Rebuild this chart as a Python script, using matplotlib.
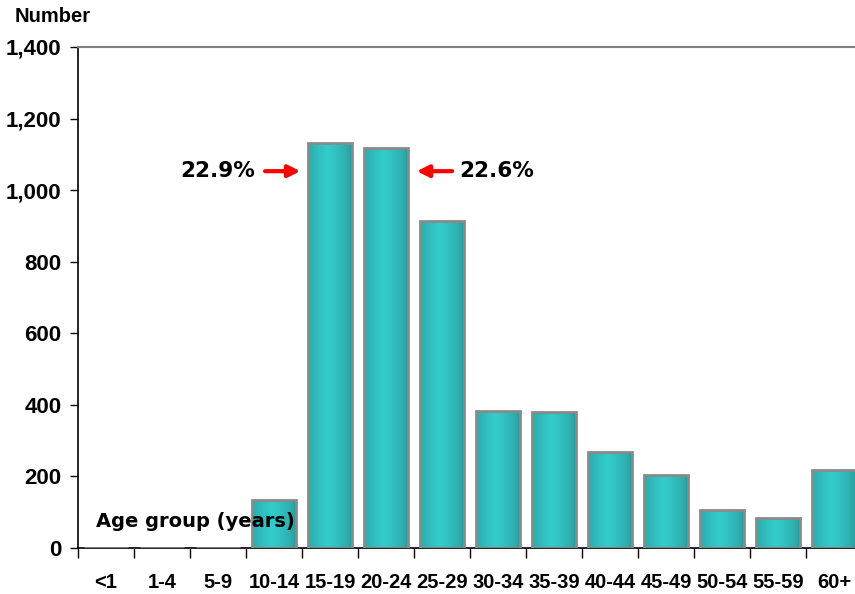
import numpy as np
import matplotlib.pyplot as plt
from matplotlib import font_manager

ages = ["<1", "1-4", "5-9", "10-14", "15-19", "20-24", "25-29", "30-34",
        "35-39", "40-44", "45-49", "50-54", "55-59", "60+"]
counts = [0, 0, 0, 134, 1131, 1117, 913, 383, 380, 268, 204, 106, 84, 218]
yticks = [0, 200, 400, 600, 800, 1000, 1200, 1400]

names = {f.name for f in font_manager.fontManager.ttflist}
tick_font = "Liberation Sans Narrow" if "Liberation Sans Narrow" in names else "Liberation Sans"
note_font = "DejaVu Sans"

fig = plt.figure(figsize=(8.55, 5.94), dpi=100)
ax = fig.add_axes([78 / 855, 1 - 548 / 594, 784 / 855, 501 / 594])

x = np.arange(len(ages))
bars = ax.bar(x, counts, width=0.78, facecolor="none", edgecolor="#8a8a8a",
              linewidth=2, zorder=3)

# horizontal teal gradient inside each bar
c_dark = np.array([0x28, 0x98, 0x98]) / 255
c_light = np.array([0x33, 0xcc, 0xcc]) / 255
t = np.linspace(0, 1, 64)
w = np.clip(1 - np.abs(t - 0.45) / 0.55, 0, 1) ** 0.6
grad = (c_dark[None, :] * (1 - w[:, None]) + c_light[None, :] * w[:, None])[None, :, :]
for b in bars:
    if b.get_height() <= 0:
        continue
    im = ax.imshow(grad, extent=[b.get_x(), b.get_x() + b.get_width(), 0, b.get_height()],
                   aspect="auto", zorder=2, interpolation="bilinear")
    im.set_clip_path(b)

ax.set_xlim(-0.5, len(ages) - 0.5)
ax.set_ylim(0, 1400)
ax.set_yticks(yticks)
ax.set_yticklabels([f"{v:,}" for v in yticks], fontfamily=tick_font,
                   fontweight="bold", fontsize=16)
ax.set_xticks(np.arange(len(ages) + 1) - 0.5, minor=False)
ax.set_xticklabels([])
ax.set_xticks(x, minor=True)
ax.set_xticklabels(ages, minor=True, fontfamily=tick_font, fontweight="bold", fontsize=14.5)
ax.tick_params(axis="x", which="major", length=7, width=1, direction="out")
ax.tick_params(axis="x", which="minor", length=0, pad=18)
ax.tick_params(axis="y", length=6, width=1, direction="out", pad=6)

ax.spines["right"].set_visible(False)
ax.spines["top"].set_color("#808080")
ax.spines["top"].set_linewidth(1.5)
ax.spines["left"].set_linewidth(1.2)
ax.spines["bottom"].set_linewidth(1.2)

fig.text(15 / 855, 1 - 17 / 594, "Number", fontfamily="Liberation Sans",
         fontweight="bold", fontsize=14.5, va="center", ha="left")

ax.text(-0.18, 73, "Age group (years)", fontfamily=note_font,
        fontweight="bold", fontsize=14, va="center", ha="left", zorder=5)

# annotations for the two largest groups
arrow = dict(arrowstyle="-|>,head_length=0.7,head_width=0.35", color="red", lw=3)
ax.annotate("", xy=(3.52, 1053), xytext=(2.79, 1053), arrowprops=arrow, zorder=5)
ax.text(2.66, 1053, "22.9%", fontfamily=note_font, fontweight="bold",
        fontsize=15.5, va="center", ha="right")
ax.annotate("", xy=(5.5, 1053), xytext=(6.23, 1053), arrowprops=arrow, zorder=5)
ax.text(6.3, 1053, "22.6%", fontfamily=note_font, fontweight="bold",
        fontsize=15.5, va="center", ha="left")

fig.savefig("out.png", dpi=100)
